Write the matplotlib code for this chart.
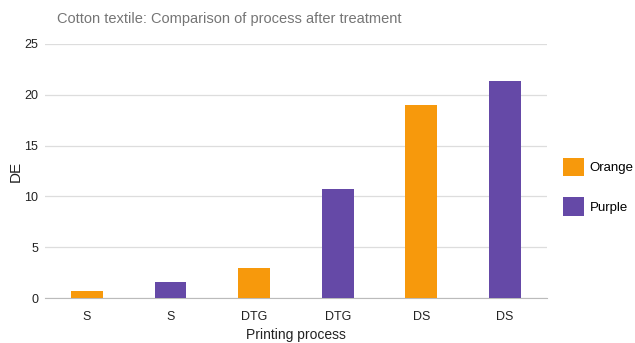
import matplotlib
matplotlib.use("Agg")
import matplotlib.pyplot as plt
from matplotlib.patches import Patch

# Colour difference (DE) after treatment, per printing process and dye colour
processes = ["S", "S", "DTG", "DTG", "DS", "DS"]
dye_colours = ["Orange", "Purple", "Orange", "Purple", "Orange", "Purple"]
de_values = [0.7, 1.55, 2.95, 10.75, 18.95, 21.35]

palette = {"Orange": "#f7990c", "Purple": "#6549a7"}

plt.rcParams["font.family"] = ["Liberation Sans", "DejaVu Sans"]

fig = plt.figure(figsize=(6.35, 3.43), dpi=100)
ax = fig.add_axes([0.071, 0.131, 0.79, 0.741])

x = range(len(processes))
ax.bar(x, de_values, width=0.38, color=[palette[c] for c in dye_colours],
       zorder=3)

ax.set_xlim(-0.5, len(processes) - 0.5)
ax.set_ylim(0, 25)
ax.set_yticks([0, 5, 10, 15, 20, 25])
ax.set_xticks(list(x))
ax.set_xticklabels(processes)
ax.tick_params(axis="both", length=0, labelsize=9, colors="#222222")
ax.tick_params(axis="y", pad=5)
ax.tick_params(axis="x", pad=9)

ax.grid(axis="y", color="#dddddd", linewidth=0.9, zorder=0)
for side in ("top", "right", "left"):
    ax.spines[side].set_visible(False)
ax.spines["bottom"].set_color("#bbbbbb")

ax.set_xlabel("Printing process", fontsize=10, color="#222222", labelpad=4)
ax.set_ylabel("DE", fontsize=11, color="#222222", labelpad=1)

fig.text(0.09, 0.945, "Cotton textile: Comparison of process after treatment",
         fontsize=10.5, color="#757575", va="center")

handles = [Patch(facecolor=palette[c], label=c) for c in ("Orange", "Purple")]
fig.legend(handles=handles, loc="center left", bbox_to_anchor=(0.868, 0.455),
           frameon=False, fontsize=9.5, handlelength=1.6, handleheight=1.8,
           labelspacing=1.6, handletextpad=0.4)

fig.savefig("out.png", dpi=100)
